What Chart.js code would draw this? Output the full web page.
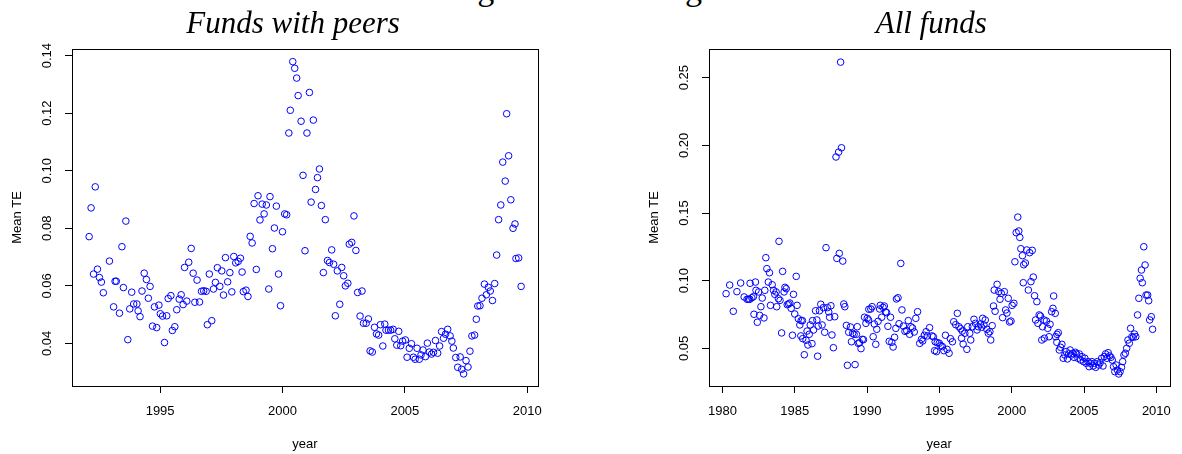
<!DOCTYPE html>
<html>
<head>
<meta charset="utf-8">
<script src="https://cdn.jsdelivr.net/npm/chart.js@4.4.1/dist/chart.umd.min.js"></script>
<style>
  html, body { margin: 0; padding: 0; background: #fff; }
  body { position: relative; width: 1182px; height: 454px; overflow: hidden; }
  canvas { position: absolute; top: 0; }
  #figcap {
    position: absolute; left: 449px; top: -28px;
    white-space: nowrap;
    font: 34px/34px 'Liberation Serif', serif; color: #000;
  }
</style>
</head>
<body>
<div id="figcap">Figure 3: Tracking error</div>
<canvas id="peersChart" width="591" height="454" style="left:0px"></canvas>
<canvas id="allChart" width="545" height="454" style="left:637px"></canvas>
<script>
// Monthly mean tracking error, funds that have peers
const peerYears = [
  1992.10, 1992.18, 1992.28, 1992.35, 1992.44, 1992.52, 1992.60, 1992.68, 1992.93, 1993.10,
  1993.16, 1993.21, 1993.34, 1993.44, 1993.50, 1993.60, 1993.68, 1993.76, 1993.84, 1993.92,
  1994.05, 1994.10, 1994.18, 1994.26, 1994.35, 1994.44, 1994.52, 1994.59, 1994.69, 1994.77,
  1994.86, 1994.95, 1995.01, 1995.10, 1995.18, 1995.27, 1995.33, 1995.44, 1995.50, 1995.60,
  1995.68, 1995.78, 1995.86, 1995.94, 1996.00, 1996.09, 1996.17, 1996.27, 1996.35, 1996.42,
  1996.51, 1996.61, 1996.69, 1996.78, 1996.88, 1996.93, 1997.01, 1997.11, 1997.18, 1997.26,
  1997.34, 1997.44, 1997.52, 1997.59, 1997.67, 1997.76, 1997.85, 1997.93, 1998.01, 1998.09,
  1998.19, 1998.28, 1998.35, 1998.40, 1998.51, 1998.59, 1998.68, 1998.76, 1998.84, 1998.93,
  1999.00, 1999.08, 1999.17, 1999.25, 1999.34, 1999.44, 1999.49, 1999.59, 1999.67, 1999.75,
  1999.84, 1999.92, 2000.00, 2000.09, 2000.17, 2000.26, 2000.32, 2000.42, 2000.50, 2000.58,
  2000.64, 2000.76, 2000.84, 2000.92, 2001.00, 2001.10, 2001.17, 2001.26, 2001.35, 2001.43,
  2001.51, 2001.59, 2001.67, 2001.75, 2001.84, 2001.92, 2002.01, 2002.09, 2002.16, 2002.24,
  2002.34, 2002.42, 2002.50, 2002.57, 2002.67, 2002.73, 2002.83, 2002.92, 2003.00, 2003.07,
  2003.17, 2003.25, 2003.31, 2003.42, 2003.51, 2003.58, 2003.67, 2003.76, 2003.84, 2003.93,
  2004.00, 2004.10, 2004.18, 2004.23, 2004.33, 2004.42, 2004.52, 2004.59, 2004.67, 2004.75,
  2004.83, 2004.91, 2005.02, 2005.09, 2005.18, 2005.27, 2005.35, 2005.42, 2005.50, 2005.59,
  2005.66, 2005.74, 2005.84, 2005.92, 2006.00, 2006.09, 2006.17, 2006.25, 2006.34, 2006.42,
  2006.50, 2006.58, 2006.66, 2006.75, 2006.85, 2006.92, 2006.98, 2007.08, 2007.16, 2007.26,
  2007.32, 2007.40, 2007.50, 2007.58, 2007.66, 2007.74, 2007.85, 2007.92, 2007.98, 2008.07,
  2008.15, 2008.25, 2008.33, 2008.41, 2008.49, 2008.58, 2008.67, 2008.75, 2008.83, 2008.92,
  2009.00, 2009.10, 2009.16, 2009.24, 2009.33, 2009.42, 2009.50, 2009.54, 2009.65, 2009.75
];
const peerTE = [
  0.0771, 0.0871, 0.0641, 0.0944, 0.0658, 0.0629, 0.0613, 0.0576, 0.0686, 0.0527,
  0.0616, 0.0616, 0.0505, 0.0736, 0.0594, 0.0825, 0.0413, 0.0520, 0.0578, 0.0537,
  0.0537, 0.0513, 0.0493, 0.0582, 0.0644, 0.0622, 0.0557, 0.0598, 0.0460, 0.0527,
  0.0455, 0.0533, 0.0503, 0.0495, 0.0403, 0.0496, 0.0556, 0.0566, 0.0445, 0.0458,
  0.0517, 0.0554, 0.0569, 0.0535, 0.0664, 0.0547, 0.0682, 0.0730, 0.0644, 0.0543,
  0.0620, 0.0544, 0.0581, 0.0583, 0.0581, 0.0465, 0.0641, 0.0479, 0.0589, 0.0612,
  0.0663, 0.0598, 0.0652, 0.0568, 0.0698, 0.0614, 0.0646, 0.0579, 0.0702, 0.0680,
  0.0685, 0.0696, 0.0648, 0.0580, 0.0585, 0.0563, 0.0772, 0.0749, 0.0886, 0.0657,
  0.0913, 0.0829, 0.0884, 0.0850, 0.0881, 0.0589, 0.0910, 0.0729, 0.0801, 0.0877,
  0.0641, 0.0531, 0.0788, 0.0850, 0.0847, 0.1131, 0.1210, 0.1379, 0.1356, 0.1322,
  0.1261, 0.1172, 0.0984, 0.0722, 0.1131, 0.1272, 0.0891, 0.1176, 0.0935, 0.0976,
  0.1006, 0.0879, 0.0646, 0.0830, 0.0688, 0.0681, 0.0725, 0.0675, 0.0496, 0.0652,
  0.0536, 0.0664, 0.0635, 0.0600, 0.0609, 0.0745, 0.0751, 0.0843, 0.0723, 0.0577,
  0.0495, 0.0582, 0.0470, 0.0470, 0.0485, 0.0374, 0.0370, 0.0456, 0.0433, 0.0429,
  0.0465, 0.0391, 0.0467, 0.0446, 0.0446, 0.0446, 0.0449, 0.0416, 0.0394, 0.0442,
  0.0392, 0.0408, 0.0412, 0.0352, 0.0383, 0.0399, 0.0352, 0.0345, 0.0383, 0.0345,
  0.0360, 0.0377, 0.0354, 0.0401, 0.0370, 0.0363, 0.0369, 0.0410, 0.0366, 0.0391,
  0.0441, 0.0418, 0.0432, 0.0449, 0.0426, 0.0408, 0.0384, 0.0351, 0.0317, 0.0353,
  0.0310, 0.0294, 0.0340, 0.0318, 0.0373, 0.0426, 0.0429, 0.0484, 0.0530, 0.0531,
  0.0557, 0.0606, 0.0569, 0.0595, 0.0582, 0.0549, 0.0608, 0.0707, 0.0830, 0.0881,
  0.1030, 0.0964, 0.1198, 0.1052, 0.0899, 0.0800, 0.0815, 0.0695, 0.0697, 0.0598
];

// Monthly mean tracking error, all funds
const allYears = [
  1980.25, 1980.50, 1980.75, 1981.00, 1981.26, 1981.50, 1981.70, 1981.80, 1981.89, 1981.91,
  1982.03, 1982.14, 1982.18, 1982.28, 1982.32, 1982.41, 1982.50, 1982.57, 1982.66, 1982.75,
  1982.87, 1982.93, 1983.00, 1983.07, 1983.17, 1983.25, 1983.32, 1983.44, 1983.53, 1983.62,
  1983.71, 1983.75, 1983.87, 1983.91, 1983.98, 1984.09, 1984.16, 1984.26, 1984.32, 1984.41,
  1984.48, 1984.57, 1984.66, 1984.75, 1984.84, 1984.91, 1985.00, 1985.10, 1985.16, 1985.25,
  1985.35, 1985.42, 1985.44, 1985.53, 1985.55, 1985.66, 1985.78, 1985.85, 1985.91, 1986.00,
  1986.07, 1986.19, 1986.23, 1986.30, 1986.44, 1986.53, 1986.58, 1986.62, 1986.71, 1986.80,
  1986.89, 1986.98, 1987.07, 1987.16, 1987.26, 1987.35, 1987.41, 1987.50, 1987.57, 1987.67,
  1987.76, 1987.85, 1987.91, 1988.03, 1988.08, 1988.17, 1988.23, 1988.32, 1988.39, 1988.46,
  1988.57, 1988.64, 1988.73, 1988.85, 1988.92, 1989.00, 1989.10, 1989.17, 1989.26, 1989.32,
  1989.39, 1989.48, 1989.58, 1989.67, 1989.75, 1989.82, 1989.92, 1990.01, 1990.10, 1990.12,
  1990.26, 1990.35, 1990.42, 1990.50, 1990.60, 1990.67, 1990.76, 1990.87, 1990.91, 1991.01,
  1991.10, 1991.19, 1991.28, 1991.35, 1991.44, 1991.53, 1991.62, 1991.71, 1991.80, 1991.90,
  1991.99, 1992.03, 1992.14, 1992.21, 1992.33, 1992.41, 1992.51, 1992.62, 1992.74, 1992.85,
  1992.94, 1993.03, 1993.14, 1993.26, 1993.37, 1993.49, 1993.64, 1993.76, 1993.85, 1993.96,
  1994.08, 1994.17, 1994.32, 1994.49, 1994.58, 1994.67, 1994.71, 1994.80, 1994.85, 1994.99,
  1995.10, 1995.21, 1995.31, 1995.42, 1995.53, 1995.67, 1995.76, 1995.90, 1995.99, 1996.13,
  1996.24, 1996.35, 1996.47, 1996.53, 1996.58, 1996.64, 1996.76, 1996.90, 1996.96, 1997.10,
  1997.17, 1997.28, 1997.39, 1997.49, 1997.60, 1997.69, 1997.83, 1997.92, 1997.99, 1998.08,
  1998.17, 1998.28, 1998.38, 1998.49, 1998.55, 1998.65, 1998.74, 1998.79, 1998.85, 1998.99,
  1999.10, 1999.19, 1999.28, 1999.37, 1999.49, 1999.58, 1999.67, 1999.76, 1999.85, 1999.95,
  2000.03, 2000.15, 2000.22, 2000.31, 2000.42, 2000.49, 2000.56, 2000.63, 2000.74, 2000.80,
  2000.83, 2000.94, 2001.04, 2001.15, 2001.24, 2001.33, 2001.42, 2001.49, 2001.58, 2001.65,
  2001.74, 2001.81, 2001.90, 2001.99, 2002.08, 2002.13, 2002.24, 2002.26, 2002.40, 2002.49,
  2002.58, 2002.65, 2002.76, 2002.85, 2002.90, 2003.01, 2003.04, 2003.12, 2003.13, 2003.22,
  2003.29, 2003.38, 2003.47, 2003.56, 2003.67, 2003.77, 2003.85, 2003.94, 2004.04, 2004.13,
  2004.22, 2004.31, 2004.40, 2004.49, 2004.58, 2004.67, 2004.76, 2004.86, 2004.97, 2005.06,
  2005.15, 2005.27, 2005.35, 2005.44, 2005.54, 2005.63, 2005.72, 2005.81, 2005.92, 2006.02,
  2006.11, 2006.22, 2006.31, 2006.40, 2006.49, 2006.58, 2006.67, 2006.77, 2006.86, 2006.95,
  2007.04, 2007.13, 2007.22, 2007.31, 2007.40, 2007.49, 2007.59, 2007.67, 2007.76, 2007.86,
  2007.95, 2008.04, 2008.13, 2008.22, 2008.31, 2008.40, 2008.49, 2008.58, 2008.70, 2008.79,
  2008.88, 2008.97, 2009.03, 2009.13, 2009.22, 2009.29, 2009.40, 2009.47, 2009.54, 2009.65,
  2009.74
];
const allTE = [
  0.0904, 0.0968, 0.0774, 0.0919, 0.0983, 0.0880, 0.0863, 0.0863, 0.0863, 0.0981,
  0.0874, 0.0882, 0.0752, 0.0990, 0.0929, 0.0693, 0.0917, 0.0744, 0.0808, 0.0872,
  0.0725, 0.0929, 0.1170, 0.1089, 0.0990, 0.1059, 0.0818, 0.0970, 0.0929, 0.0899,
  0.0917, 0.0808, 0.0867, 0.1291, 0.0855, 0.0614, 0.1069, 0.0917, 0.0951, 0.0941,
  0.0823, 0.0828, 0.0835, 0.0796, 0.0597, 0.0899, 0.0754, 0.1032, 0.0818, 0.0719,
  0.0673, 0.0592, 0.0705, 0.0705, 0.0572, 0.0453, 0.0560, 0.0628, 0.0525, 0.0604,
  0.0673, 0.0535, 0.0705, 0.0636, 0.0778, 0.0710, 0.0442, 0.0665, 0.0778, 0.0826,
  0.0673, 0.0801, 0.0619, 0.1244, 0.0801, 0.0769, 0.0730, 0.0815, 0.0599, 0.0505,
  0.0734, 0.1914, 0.1165, 0.1950, 0.1202, 0.2615, 0.1982, 0.1145, 0.0828, 0.0808,
  0.0670, 0.0375, 0.0619, 0.0658, 0.0549, 0.0611, 0.0604, 0.0380, 0.0604, 0.0660,
  0.0537, 0.0542, 0.0498, 0.0567, 0.0564, 0.0730, 0.0685, 0.0722, 0.0710, 0.0789,
  0.0791, 0.0808, 0.0586, 0.0680, 0.0530, 0.0641, 0.0700, 0.0791, 0.0818, 0.0730,
  0.0803, 0.0813, 0.0769, 0.0764, 0.0663, 0.0552, 0.0730, 0.0545, 0.0510, 0.0582,
  0.0648, 0.0865, 0.0874, 0.0682, 0.1128, 0.0784, 0.0665, 0.0626, 0.0631, 0.0705,
  0.0604, 0.0660, 0.0651, 0.0621, 0.0722, 0.0771, 0.0537, 0.0567, 0.0555, 0.0597,
  0.0623, 0.0592, 0.0653, 0.0592, 0.0586, 0.0483, 0.0549, 0.0476, 0.0542, 0.0538,
  0.0520, 0.0513, 0.0483, 0.0597, 0.0493, 0.0464, 0.0572, 0.0549, 0.0697, 0.0675,
  0.0759, 0.0660, 0.0645, 0.0575, 0.0628, 0.0532, 0.0612, 0.0493, 0.0660, 0.0612,
  0.0562, 0.0660, 0.0715, 0.0685, 0.0636, 0.0660, 0.0680, 0.0656, 0.0722, 0.0673,
  0.0710, 0.0641, 0.0612, 0.0623, 0.0562, 0.0668, 0.0813, 0.0931, 0.0774, 0.0973,
  0.0919, 0.0863, 0.0907, 0.0727, 0.0919, 0.0784, 0.0761, 0.0870, 0.0695, 0.0702,
  0.0818, 0.0833, 0.1140, 0.1355, 0.1470, 0.1367, 0.1320, 0.1236, 0.1185, 0.0985,
  0.1118, 0.1131, 0.1227, 0.0931, 0.1207, 0.0993, 0.1224, 0.1027, 0.0889, 0.0710,
  0.0845, 0.0685, 0.0747, 0.0739, 0.0562, 0.0660, 0.0710, 0.0575, 0.0702, 0.0648,
  0.0586, 0.0678, 0.0771, 0.0796, 0.0887, 0.0759, 0.0586, 0.0545, 0.0604, 0.0616,
  0.0488, 0.0508, 0.0530, 0.0427, 0.0451, 0.0476, 0.0422, 0.0459, 0.0488, 0.0451,
  0.0464, 0.0434, 0.0471, 0.0459, 0.0427, 0.0459, 0.0414, 0.0439, 0.0402, 0.0427,
  0.0390, 0.0402, 0.0365, 0.0390, 0.0402, 0.0370, 0.0390, 0.0360, 0.0402, 0.0377,
  0.0394, 0.0427, 0.0370, 0.0439, 0.0459, 0.0427, 0.0468, 0.0444, 0.0434, 0.0414,
  0.0365, 0.0328, 0.0377, 0.0340, 0.0311, 0.0328, 0.0360, 0.0402, 0.0451, 0.0464,
  0.0501, 0.0562, 0.0538, 0.0648, 0.0586, 0.0582, 0.0606, 0.0586, 0.0747, 0.0870,
  0.1018, 0.1079, 0.0985, 0.1251, 0.1116, 0.0894, 0.0894, 0.0852, 0.0710, 0.0734,
  0.0641
];

// Axis tick positions
const peerYearTicks = [1995, 2000, 2005, 2010];
const peerTETicks = [0.04, 0.06, 0.08, 0.10, 0.12, 0.14];
const allYearTicks = [1980, 1985, 1990, 1995, 2000, 2005, 2010];
const allTETicks = [0.05, 0.10, 0.15, 0.20, 0.25];

const SANS = "'Liberation Sans', Arial, Helvetica, sans-serif";
const SERIF = "'Liberation Serif', 'Times New Roman', serif";

// Closed box around the plotting region
const frameBox = {
  id: 'frameBox',
  afterDraw(chart) {
    const { ctx, chartArea: a } = chart;
    ctx.save();
    ctx.strokeStyle = '#000';
    ctx.lineWidth = 1;
    ctx.strokeRect(Math.round(a.left) + 0.5, Math.round(a.top) + 0.5,
                   Math.round(a.right - a.left), Math.round(a.bottom - a.top));
    ctx.restore();
  }
};

// Italic panel heading above the plotting region
const panelTitle = {
  id: 'panelTitle',
  afterDraw(chart, args, opts) {
    const { ctx, chartArea: a } = chart;
    ctx.save();
    ctx.font = 'italic 31px ' + SERIF;
    ctx.fillStyle = '#000';
    ctx.textAlign = 'center';
    ctx.textBaseline = 'alphabetic';
    ctx.fillText(opts.text, (a.left + a.right) / 2 + opts.dx, opts.baseline);
    ctx.restore();
  }
};

function buildPanel(canvasId, cfg) {
  const points = cfg.years.map((x, i) => ({ x: x, y: cfg.te[i] }));
  return new Chart(document.getElementById(canvasId), {
    type: 'scatter',
    data: {
      datasets: [{
        data: points,
        pointStyle: 'circle',
        pointRadius: 3.3,
        pointBorderWidth: 1,
        pointBorderColor: '#0000ff',
        pointBackgroundColor: 'rgba(0,0,0,0)',
        showLine: false
      }]
    },
    options: {
      responsive: false,
      animation: false,
      events: [],
      layout: { padding: { left: 0, right: cfg.padRight, top: 49, bottom: 0 } },
      plugins: {
        legend: { display: false },
        tooltip: { enabled: false },
        title: { display: false },
        panelTitle: { text: cfg.title, dx: cfg.titleDx, baseline: 33 }
      },
      scales: {
        x: {
          type: 'linear',
          position: 'bottom',
          min: cfg.xMin,
          max: cfg.xMax,
          afterBuildTicks: s => { s.ticks = cfg.xTicks.map(v => ({ value: v })); },
          afterFit: s => { s.height = 68; },
          grid: { display: true, drawOnChartArea: false, drawTicks: true, tickLength: 7, tickColor: '#000', tickWidth: 1 },
          border: { display: false },
          ticks: {
            color: '#000', font: { family: SANS, size: 13 }, padding: 11,
            maxRotation: 0, autoSkip: false,
            callback: v => String(v)
          },
          title: {
            display: true, text: 'year', color: '#000',
            font: { family: SANS, size: 13, lineHeight: 1.2 },
            padding: { top: 0, bottom: 1.8 }
          }
        },
        y: {
          type: 'linear',
          position: 'left',
          min: cfg.yMin,
          max: cfg.yMax,
          afterBuildTicks: s => { s.ticks = cfg.yTicks.map(v => ({ value: v })); },
          afterFit: s => { s.width = 72; },
          grid: { display: true, drawOnChartArea: false, drawTicks: true, tickLength: 7, tickColor: '#000', tickWidth: 1 },
          border: { display: false },
          ticks: {
            color: '#000', font: { family: SANS, size: 13 }, padding: 5,
            minRotation: 90, maxRotation: 90, crossAlign: 'center', autoSkip: false,
            callback: v => v.toFixed(2)
          },
          title: {
            display: true, text: 'Mean TE', color: '#000',
            font: { family: SANS, size: 13, lineHeight: 1.2 },
            padding: { top: 9.2, bottom: 0 }
          }
        }
      }
    },
    plugins: [frameBox, panelTitle]
  });
}

buildPanel('peersChart', {
  title: 'Funds with peers', titleDx: -12,
  years: peerYears, te: peerTE,
  xTicks: peerYearTicks, yTicks: peerTETicks,
  xMin: 1991.40, xMax: 2010.44, yMin: 0.0252, yMax: 0.1423,
  padRight: 53
});

buildPanel('allChart', {
  title: 'All funds', titleDx: -8,
  years: allYears, te: allTE,
  xTicks: allYearTicks, yTicks: allTETicks,
  xMin: 1979.07, xMax: 2010.91, yMin: 0.0222, yMax: 0.2712,
  padRight: 6.7
});
</script>
</body>
</html>
